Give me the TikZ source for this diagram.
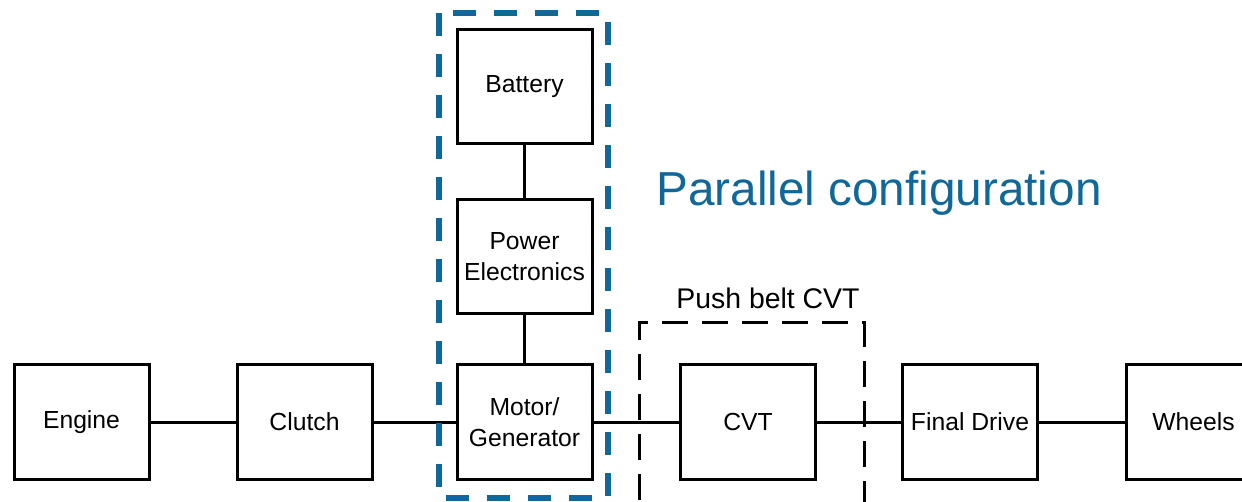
\documentclass[tikz,border=0pt]{standalone}
\usepackage{fontspec}
\setmainfont{Liberation Sans}
\usetikzlibrary{positioning}
\definecolor{cfgblue}{RGB}{16,104,154}

\begin{document}
\begin{tikzpicture}[x=1pt, y=-1pt,
    block/.style={draw, line width=3pt, minimum width=135pt, minimum height=114pt, inner sep=0pt, align=center, font=\fontsize{24.7}{30.5}\selectfont},
    link/.style={line width=3pt},
    elecgroup/.style={draw=cfgblue, line width=5.5pt, dash pattern=on 23pt off 18pt},
    cvtgroup/.style={draw, line width=3pt, dash pattern=on 26pt off 14pt}
]
\useasboundingbox (0,0) rectangle (1242,502);
\clip (0,0) rectangle (1242,502);

% Driveline
\node[block] (engine) at (81.5,422) {Engine};
\node[block] (clutch) at (304.5,422) {Clutch};
\node[block] (motor) at (524.5,422) {Motor/\\Generator};
\node[block] (cvt) at (748,422) {CVT};
\node[block] (finaldrive) at (970,422) {Final Drive};
\node[block] (wheels) at (1193.5,422) {Wheels};

% Electric path
\node[block] (powerel) at (524.5,256.5) {Power\\Electronics};
\node[block] (battery) at (524.5,86.5) {Battery};

% Connections
\draw[link] (engine) -- (clutch);
\draw[link] (clutch) -- (motor);
\draw[link] (motor) -- (cvt);
\draw[link] (cvt) -- (finaldrive);
\draw[link] (finaldrive) -- (wheels);
\draw[link] (battery) -- (powerel);
\draw[link] (powerel) -- (motor);

% Groups
\draw[elecgroup] (439,13) rectangle (608,498);
\draw[cvtgroup] (639,540) -- (639,323) -- (864,323) -- (864,540);

% Labels
\node[font=\fontsize{28.4}{34}\selectfont] (cvtlabel) at (768,298) {Push belt CVT};
\node[font=\fontsize{47.7}{56}\selectfont, text=cfgblue] (title) at (879,193) {Parallel configuration};

\end{tikzpicture}
\end{document}
